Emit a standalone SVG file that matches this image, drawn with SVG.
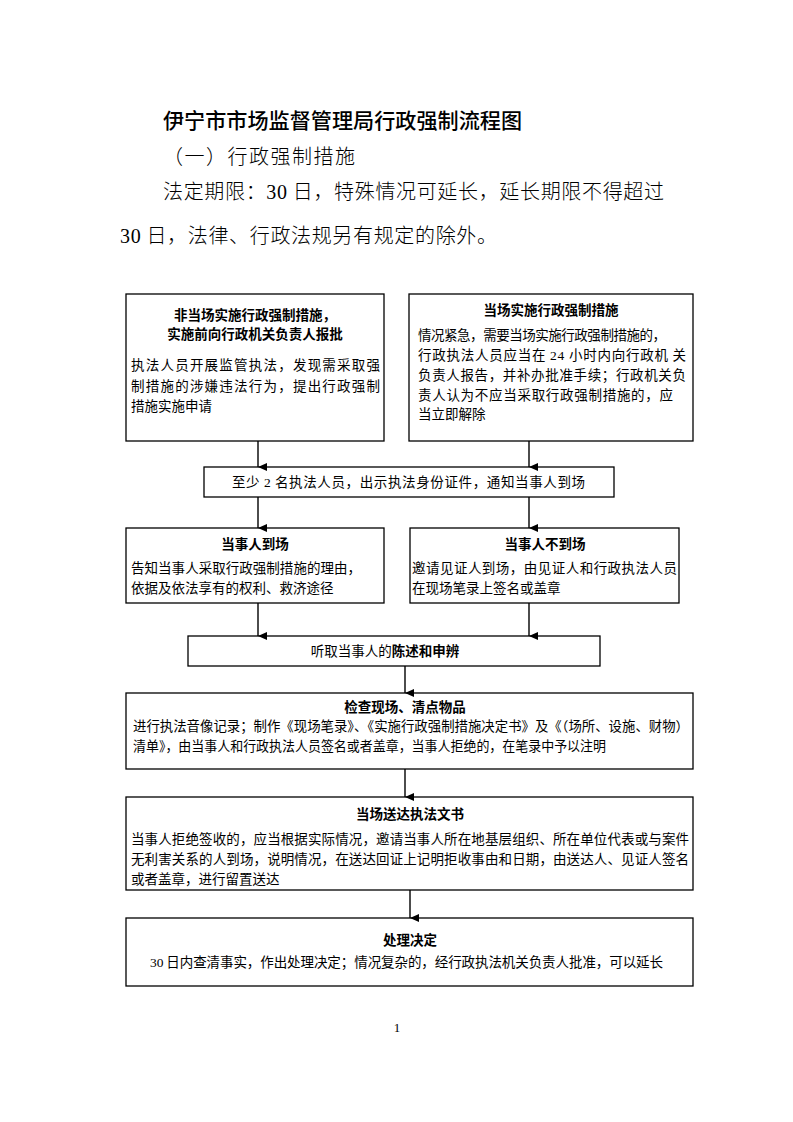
<svg xmlns="http://www.w3.org/2000/svg" width="793" height="1122" viewBox="0 0 793 1122">
<defs>
<marker id="ah" markerWidth="8" markerHeight="9" refX="4" refY="9" orient="auto" markerUnits="userSpaceOnUse" viewBox="0 0 8 9">
<path d="M0,0 L8,0 L4,9 Z" fill="#000"/>
</marker>
<style>
.box{fill:#fff;stroke:#000;stroke-width:1.3}
.t{font-family:"Noto Sans CJK SC","Noto Sans",sans-serif;font-size:13.5px;fill:#000}
.b{font-weight:bold}
.c{text-anchor:middle}
.d{font-family:"Liberation Serif",serif}
.h{font-family:"Noto Sans CJK SC",sans-serif;font-size:21px;font-weight:500;fill:#000}
.p{font-family:"Noto Sans CJK SC",sans-serif;font-size:20px;font-weight:300;fill:#000}
.conn line{stroke:#000;stroke-width:1.4;marker-end:url(#ah)}
</style>
</defs>
<rect width="793" height="1122" fill="#fff"/>

<g id="header">
<text class="h" x="163" y="128" textLength="359" lengthAdjust="spacingAndGlyphs">伊宁市市场监督管理局行政强制流程图</text>
<text class="p" x="163" y="164" textLength="192" lengthAdjust="spacing">（一）行政强制措施</text>
<text class="p" x="163" y="199" textLength="501" lengthAdjust="spacing">法定期限：<tspan class="d">30</tspan> 日，特殊情况可延长，延长期限不得超过</text>
<text class="p" x="120" y="243" textLength="377" lengthAdjust="spacing"><tspan class="d">30</tspan> 日，法律、行政法规另有规定的除外。</text>
</g>

<g id="nodeA">
<rect class="box" x="126" y="294" width="258" height="147"/>
<text class="t b c" x="255" y="320">非当场实施行政强制措施，</text>
<text class="t b c" x="255" y="339">实施前向行政机关负责人报批</text>
<text class="t" x="131" y="370" textLength="249" lengthAdjust="spacing">执法人员开展监管执法，发现需采取强</text>
<text class="t" x="131" y="391" textLength="249" lengthAdjust="spacing">制措施的涉嫌违法行为，提出行政强制</text>
<text class="t" x="131" y="411">措施实施申请</text>
</g>

<g id="nodeB">
<rect class="box" x="409" y="294" width="284" height="147"/>
<text class="t b c" x="551" y="315">当场实施行政强制措施</text>
<text class="t" x="418" y="340" textLength="248" lengthAdjust="spacing">情况紧急，需要当场实施行政强制措施的，</text>
<text class="t" x="418" y="360" textLength="268" lengthAdjust="spacing">行政执法人员应当在 <tspan class="d">24</tspan> 小时内向行政机 关</text>
<text class="t" x="418" y="380" textLength="268" lengthAdjust="spacing">负责人报告，并补办批准手续；行政机关负</text>
<text class="t" x="418" y="400" textLength="255" lengthAdjust="spacing">责人认为不应当采取行政强制措施的，应</text>
<text class="t" x="418" y="419">当立即解除</text>
</g>

<g id="nodeC">
<rect class="box" x="204" y="467" width="410" height="30"/>
<text class="t" x="232" y="487" textLength="353" lengthAdjust="spacing">至少 <tspan class="d">2</tspan> 名执法人员，出示执法身份证件，通知当事人到场</text>
</g>

<g id="nodeD">
<rect class="box" x="126" y="528" width="258" height="75"/>
<text class="t b c" x="255" y="549">当事人到场</text>
<text class="t" x="131" y="573" textLength="230" lengthAdjust="spacing">告知当事人采取行政强制措施的理由，</text>
<text class="t" x="131" y="593">依据及依法享有的权利、救济途径</text>
</g>

<g id="nodeE">
<rect class="box" x="410" y="528" width="269" height="75"/>
<text class="t b c" x="545" y="549">当事人不到场</text>
<text class="t" x="412" y="573" textLength="265" lengthAdjust="spacing">邀请见证人到场，由见证人和行政执法人员</text>
<text class="t" x="412" y="593">在现场笔录上签名或盖章</text>
</g>

<g id="nodeF">
<rect class="box" x="188" y="636" width="412" height="30"/>
<text class="t c" x="385" y="656">听取当事人的<tspan class="b">陈述和申辨</tspan></text>
</g>

<g id="nodeG">
<rect class="box" x="126" y="693" width="567" height="76"/>
<text class="t b c" x="405" y="712">检查现场、清点物品</text>
<text class="t" x="133" y="731" textLength="556" lengthAdjust="spacingAndGlyphs">进行执法音像记录；制作《现场笔录》、《实施行政强制措施决定书》及《（场所、设施、财物）</text>
<text class="t" x="133" y="751" textLength="473" lengthAdjust="spacingAndGlyphs">清单》，由当事人和行政执法人员签名或者盖章，当事人拒绝的，在笔录中予以注明</text>
</g>

<g id="nodeH">
<rect class="box" x="126" y="797" width="567" height="93"/>
<text class="t b c" x="410" y="819">当场送达执法文书</text>
<text class="t" x="131" y="844" textLength="558" lengthAdjust="spacing">当事人拒绝签收的，应当根据实际情况，邀请当事人所在地基层组织、所在单位代表或与案件</text>
<text class="t" x="131" y="864" textLength="558" lengthAdjust="spacing">无利害关系的人到场，说明情况，在送达回证上记明拒收事由和日期，由送达人、见证人签名</text>
<text class="t" x="131" y="884">或者盖章，进行留置送达</text>
</g>

<g id="nodeI">
<rect class="box" x="126" y="918" width="567" height="68"/>
<text class="t b c" x="410" y="945">处理决定</text>
<text class="t" x="150" y="967" textLength="513" lengthAdjust="spacing"><tspan class="d">30</tspan> 日内查清事实，作出处理决定；情况复杂的，经行政执法机关负责人批准，可以延长</text>
</g>

<g id="connectors" class="conn">
<line x1="258" y1="441" x2="258" y2="467"/>
<line x1="529" y1="441" x2="529" y2="467"/>
<line x1="258" y1="497" x2="258" y2="528"/>
<line x1="529" y1="497" x2="529" y2="528"/>
<line x1="258" y1="603" x2="258" y2="636"/>
<line x1="529" y1="603" x2="529" y2="636"/>
<line x1="405" y1="666" x2="405" y2="693"/>
<line x1="405" y1="769" x2="405" y2="797"/>
<line x1="410" y1="890" x2="410" y2="918"/>
</g>

<text x="397" y="1032" style="font-family:'Liberation Serif',serif;font-size:13px" text-anchor="middle">1</text>
</svg>
